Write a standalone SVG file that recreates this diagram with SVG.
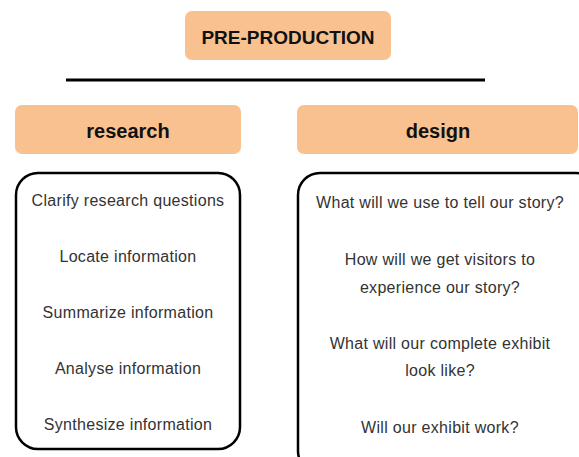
<svg xmlns="http://www.w3.org/2000/svg" width="579" height="457" viewBox="0 0 579 457">
  <style>
    .hdr { fill: #F9C18F; }
    .list { fill: #FFFFFF; stroke: #000000; stroke-width: 2.5; }
    .title { font-family: "Liberation Sans", Arial, sans-serif; font-weight: bold; fill: #111111; text-anchor: middle; }
    .item { font-family: "Liberation Sans", Arial, sans-serif; font-size: 16px; letter-spacing: 0.3px; fill: #333333; text-anchor: middle; }
  </style>
  <rect width="579" height="457" fill="#FFFFFF"/>

  <!-- top heading -->
  <g id="pre-production">
    <rect class="hdr" x="185" y="11" width="206" height="49" rx="7"/>
    <text class="title" x="288" y="44" font-size="19">PRE-PRODUCTION</text>
  </g>

  <!-- divider rule -->
  <g id="connectors">
    <line x1="66" y1="80" x2="485" y2="80" stroke="#000000" stroke-width="3"/>
  </g>

  <!-- research column -->
  <g id="research">
    <rect class="hdr" x="15" y="105" width="226" height="49" rx="7"/>
    <text class="title" x="128" y="138" font-size="20">research</text>
  </g>
  <g id="research-list">
    <rect class="list" x="16" y="173" width="224" height="276" rx="22"/>
    <text class="item" x="128" y="206">Clarify research questions</text>
    <text class="item" x="128" y="262">Locate information</text>
    <text class="item" x="128" y="318">Summarize information</text>
    <text class="item" x="128" y="374">Analyse information</text>
    <text class="item" x="128" y="430">Synthesize information</text>
  </g>

  <!-- design column -->
  <g id="design">
    <rect class="hdr" x="297" y="105" width="281" height="49" rx="7"/>
    <text class="title" x="438" y="138" font-size="20">design</text>
  </g>
  <g id="design-list">
    <rect class="list" x="298" y="173" width="300" height="300" rx="22"/>
    <text class="item" x="440" y="208">What will we use to tell our story?</text>
    <text class="item" x="440" y="265">How will we get visitors to</text>
    <text class="item" x="440" y="293">experience our story?</text>
    <text class="item" x="440" y="349">What will our complete exhibit</text>
    <text class="item" x="440" y="376">look like?</text>
    <text class="item" x="440" y="433">Will our exhibit work?</text>
  </g>
</svg>
